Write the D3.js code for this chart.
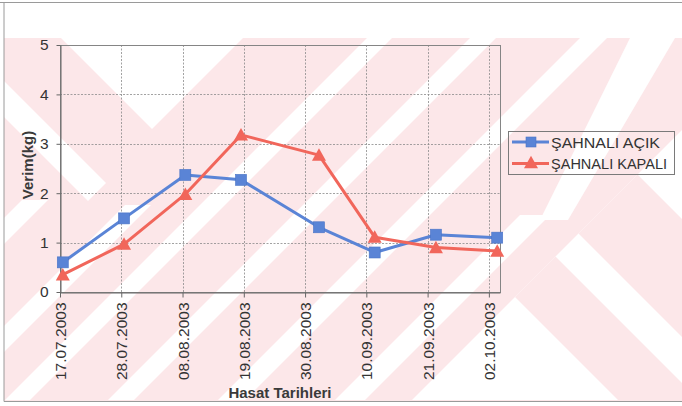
<!DOCTYPE html>
<html>
<head>
<meta charset="utf-8">
<script src="https://cdn.jsdelivr.net/npm/d3@7"></script>
<style>
  html, body { margin: 0; padding: 0; background: #ffffff; }
  svg { display: block; font-family: Arial, "Liberation Sans", Helvetica, sans-serif; }
</style>
</head>
<body>
<svg id="chart" width="682" height="406"></svg>
<script>
// Harvest dates and yields (kg)
const harvestDates = ["17.07.2003", "28.07.2003", "08.08.2003", "18.08.2003",
                      "01.09.2003", "11.09.2003", "22.09.2003", "03.10.2003"];
const acikValues   = [0.60, 1.49, 2.37, 2.27, 1.31, 0.80, 1.16, 1.10];
const kapaliValues = [0.35, 0.97, 1.98, 3.18, 2.77, 1.11, 0.90, 0.83];
const seriesNames  = ["ŞAHNALI AÇIK", "ŞAHNALI KAPALI"];

// Axis setup
const xTickLabels = ["17.07.2003", "28.07.2003", "08.08.2003", "19.08.2003",
                     "30.08.2003", "10.09.2003", "21.09.2003", "02.10.2003"];
const xAxisStart = "17.07.2003";
const xAxisEnd   = "04.10.2003";
const yTickValues = [0, 1, 2, 3, 4, 5];
const xTitle = "Hasat Tarihleri";
const yTitle = "Verim(kg)";

const W = 682, H = 406;
const plot = { left: 60, right: 500, top: 45, bottom: 292 };
const blue = "#5a84d6", red = "#f1665b";
const textColor = "#333333";
const pink = "#fce7e9";

const svg = d3.select("#chart");
const parseDate = d3.utcParse("%d.%m.%Y");

// ---- page background with the faint diagonal watermark ----
const bg = svg.append("g");
bg.append("rect").attr("x", 0).attr("y", 0).attr("width", W).attr("height", H).attr("fill", "#ffffff");
const defs = svg.append("defs");
defs.append("clipPath").attr("id", "wm")
  .append("rect").attr("x", 4).attr("y", 38).attr("width", W - 4).attr("height", 363);
const wm = bg.append("g").attr("clip-path", "url(#wm)");
wm.append("rect").attr("x", 4).attr("y", 38).attr("width", W - 4).attr("height", 363).attr("fill", pink);

// "/" band: c1 <= x + y <= c2 between rows yTop and yBot
const slash = (c1, c2, yTop, yBot) => [[c1 - yBot, yBot], [c2 - yBot, yBot], [c2 - yTop, yTop], [c1 - yTop, yTop]];
// "\" band: k1 <= y - x <= k2 between rows yTop and yBot
const back = (k1, k2, yTop, yBot) => [[yTop - k2, yTop], [yTop - k1, yTop], [yBot - k1, yBot], [yBot - k2, yBot]];

const rightField = [[412, 400], [682, 130], [682, 400]];
const whiteShapes = [
  [[0, 77], [106, 183], [88, 201], [0, 113]],
  [[61, 38], [152, 129], [243, 38]],
  slash(222, 248, 200, 260),
  slash(330, 356, 205, 400),
  slash(405, 430, 38, 400),
  slash(508, 534, 38, 400),
  slash(618, 645, 38, 400),
  slash(735, 765, 215, 400),
  [[540, 220], [568, 220], [675, 38], [630, 38]],
  rightField
];
whiteShapes.forEach(p => wm.append("path").attr("d", d3.line()(p) + "Z").attr("fill", "#ffffff"));

// pink "\" bands inside the right-hand chevron field
defs.append("clipPath").attr("id", "wmRight")
  .append("path").attr("d", d3.line()(rightField) + "Z");
const wmR = bg.append("g").attr("clip-path", "url(#wmRight)");
[back(-463, -345, 100, 420), back(-299, -218, 100, 420)].forEach(p =>
  wmR.append("path").attr("d", d3.line()(p) + "Z").attr("fill", pink));

// page frame
const frame = svg.append("g").attr("stroke", "#9a9a9a").attr("stroke-width", 1).attr("fill", "none");
frame.append("line").attr("x1", 0).attr("x2", W).attr("y1", 2.5).attr("y2", 2.5);
frame.append("line").attr("x1", 4).attr("x2", 4).attr("y1", 2.5).attr("y2", 401.5);
frame.append("line").attr("x1", 4).attr("x2", W).attr("y1", 401.5).attr("y2", 401.5);

// ---- scales ----
const x = d3.scaleUtc()
  .domain([parseDate(xAxisStart), parseDate(xAxisEnd)])
  .range([plot.left, plot.right]);
const y = d3.scaleLinear().domain([0, 5]).range([plot.bottom, plot.top]);

// each harvest day is drawn at the middle of its day slot
const xPos = s => x(d3.utcHour.offset(parseDate(s), 12));

// ---- gridlines ----
const grid = svg.append("g").attr("stroke", "#8a8a8a").attr("stroke-width", 0.8)
  .attr("stroke-dasharray", "2,1.5");
grid.selectAll(".hg").data(yTickValues.filter(v => v > 0 && v < 5)).join("line")
  .attr("x1", plot.left).attr("x2", plot.right)
  .attr("y1", d => Math.round(y(d)) + 0.5).attr("y2", d => Math.round(y(d)) + 0.5);
grid.selectAll(".vg").data(xTickLabels.slice(1)).join("line")
  .attr("x1", d => Math.round(x(parseDate(d))) + 0.5).attr("x2", d => Math.round(x(parseDate(d))) + 0.5)
  .attr("y1", plot.top).attr("y2", plot.bottom);

// plot area border
svg.append("rect")
  .attr("x", plot.left + 0.5).attr("y", plot.top + 0.5)
  .attr("width", plot.right - plot.left).attr("height", plot.bottom - plot.top)
  .attr("fill", "none").attr("stroke", "#858585").attr("stroke-width", 1);

// ---- axes ----
const xAxis = svg.append("g")
  .attr("transform", `translate(0,${plot.bottom + 0.5})`)
  .call(d3.axisBottom(x)
    .tickValues(xTickLabels.map(parseDate))
    .tickFormat(d3.utcFormat("%d.%m.%Y"))
    .tickSize(5).tickSizeOuter(0));
xAxis.select(".domain").attr("stroke", "#666");
xAxis.selectAll(".tick line").attr("stroke", "#666");
xAxis.selectAll(".tick text")
  .attr("transform", "rotate(-90)")
  .attr("text-anchor", "end")
  .attr("x", -10).attr("y", 0).attr("dy", "0.36em")
  .attr("fill", textColor)
  .style("font-size", "15.5px");

const yAxis = svg.append("g")
  .attr("transform", `translate(${plot.left + 0.5},0)`)
  .call(d3.axisLeft(y).tickValues(yTickValues).tickFormat(d3.format("d"))
    .tickSize(4).tickPadding(8).tickSizeOuter(0));
yAxis.select(".domain").attr("stroke", "#666");
yAxis.selectAll(".tick line").attr("stroke", "#666");
yAxis.selectAll(".tick text").attr("fill", textColor).style("font-size", "15.5px");

// axis titles
svg.append("text")
  .attr("x", (plot.left + plot.right) / 2).attr("y", 398)
  .attr("text-anchor", "middle").attr("font-weight", "bold")
  .attr("fill", "#3a3a3a").style("font-size", "15px")
  .text(xTitle);
svg.append("text")
  .attr("transform", `translate(33,165) rotate(-90)`)
  .attr("text-anchor", "middle").attr("font-weight", "bold")
  .attr("fill", "#3a3a3a").style("font-size", "15px")
  .text(yTitle);

// ---- series ----
const triangle = "M0,-6.8L7,5.7L-7,5.7Z";
const series = [
  { name: seriesNames[0], values: acikValues, color: blue, marker: "square", legendWidth: 109 },
  { name: seriesNames[1], values: kapaliValues, color: red, marker: "triangle", legendWidth: 116 }
];
const line = d3.line().x(d => xPos(d.date)).y(d => y(d.value));

series.forEach(s => {
  const pts = harvestDates.map((d, i) => ({ date: d, value: s.values[i] }));
  const g = svg.append("g");
  g.append("path").datum(pts).attr("d", line)
    .attr("fill", "none").attr("stroke", s.color).attr("stroke-width", 3)
    .attr("stroke-linejoin", "round");
  if (s.marker === "square") {
    g.selectAll("rect").data(pts).join("rect")
      .attr("x", d => xPos(d.date) - 5.5).attr("y", d => y(d.value) - 5.5)
      .attr("width", 11).attr("height", 11)
      .attr("fill", s.color).attr("stroke", "#4a74c6").attr("stroke-width", 0.6);
  } else {
    g.selectAll("path.m").data(pts).join("path").attr("class", "m")
      .attr("d", triangle)
      .attr("transform", d => `translate(${xPos(d.date)},${y(d.value)})`)
      .attr("fill", s.color);
  }
});

// ---- legend ----
const legend = svg.append("g");
legend.append("rect").attr("x", 508.5).attr("y", 131.5).attr("width", 166).attr("height", 43)
  .attr("fill", "none").attr("stroke", "#7a7a7a").attr("stroke-width", 1);
series.forEach((s, i) => {
  const cy = 142 + i * 21.5;
  const row = legend.append("g");
  row.append("line").attr("x1", 512).attr("x2", 549).attr("y1", cy).attr("y2", cy)
    .attr("stroke", s.color).attr("stroke-width", 3);
  if (s.marker === "square") {
    row.append("rect").attr("x", 526).attr("y", cy - 5).attr("width", 10).attr("height", 10)
      .attr("fill", s.color).attr("stroke", "#4a74c6").attr("stroke-width", 0.6);
  } else {
    row.append("path").attr("d", triangle).attr("transform", `translate(531,${cy - 1})`)
      .attr("fill", s.color);
  }
  row.append("text").attr("x", 551).attr("y", cy + 5.5)
    .attr("fill", textColor).style("font-size", "15px")
    .attr("textLength", s.legendWidth).attr("lengthAdjust", "spacingAndGlyphs")
    .text(s.name);
});
</script>
</body>
</html>
